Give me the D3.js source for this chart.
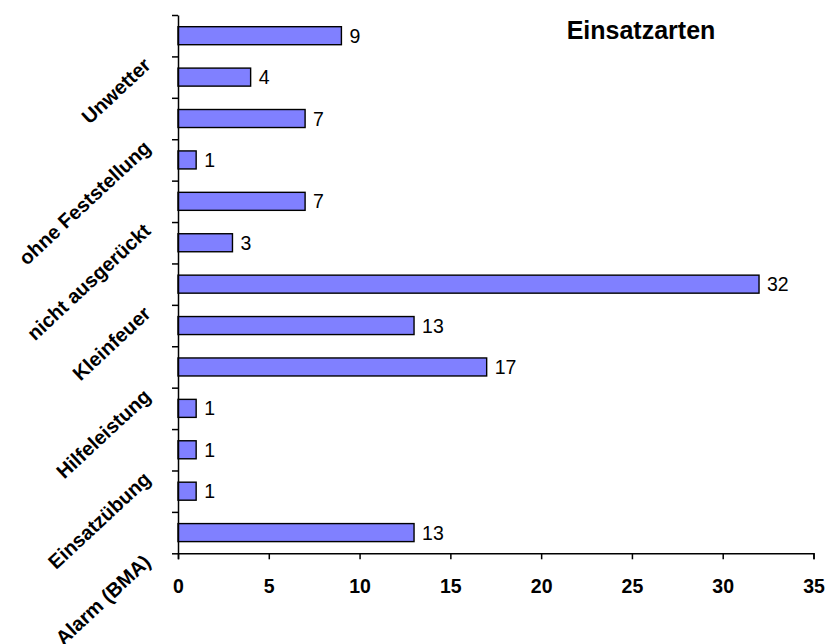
<!DOCTYPE html>
<html>
<head>
<meta charset="utf-8">
<script src="https://cdn.jsdelivr.net/npm/d3@7"></script>
<style>
  body { margin: 0; background: #fff; }
  text { font-family: Arial, "Liberation Sans", sans-serif; }
</style>
</head>
<body>
<div id="chart"></div>
<script>
// categories bottom to top, only every other one is labelled in the original
var categories = ["Alarm (BMA)", "", "Einsatzübung", "", "Hilfeleistung", "", "Kleinfeuer", "",
                  "nicht ausgerückt", "", "ohne Feststellung", "", "Unwetter"];
var values = [13, 1, 1, 1, 17, 13, 32, 3, 7, 1, 7, 4, 9];
var xTicks = [0, 5, 10, 15, 20, 25, 30, 35];
var title = "Einsatzarten";

var width = 825, height = 644;
var margin = {top: 15, right: 11.5, bottom: 90.7, left: 178};
var plotW = width - margin.left - margin.right,
    plotH = height - margin.top - margin.bottom;

var svg = d3.select('#chart').append('svg')
    .attr('width', width)
    .attr('height', height);

var g = svg.append('g')
    .attr('transform', 'translate(' + margin.left + ',' + margin.top + ')');

var x = d3.scaleLinear().domain([0, 35]).range([0, plotW]);
var idx = d3.range(categories.length);
var y = d3.scaleBand()
    .domain(idx.slice().reverse())
    .range([0, plotH])
    .paddingInner(0.565)
    .paddingOuter(0.2825);

// bars
g.selectAll('.bar')
    .data(values)
    .enter()
    .append('rect')
    .attr('class', 'bar')
    .attr('x', 0)
    .attr('y', function(d, i) { return y(i); })
    .attr('width', function(d) { return x(d); })
    .attr('height', y.bandwidth())
    .attr('fill', '#8080ff')
    .attr('stroke', '#000')
    .attr('stroke-width', 1.4);

// value labels
g.selectAll('.val')
    .data(values)
    .enter()
    .append('text')
    .attr('class', 'val')
    .attr('x', function(d) { return x(d) + 8; })
    .attr('y', function(d, i) { return y(i) + y.bandwidth() / 2; })
    .attr('dy', '0.36em')
    .attr('font-size', 19.5)
    .attr('fill', '#000')
    .text(function(d) { return d; });

// x axis
var xAxis = g.append('g')
    .attr('transform', 'translate(0,' + plotH + ')')
    .call(d3.axisBottom(x).tickValues(xTicks).tickSize(6).tickSizeOuter(6).tickPadding(20));
xAxis.select('.domain').attr('stroke', '#000').attr('stroke-width', 1.5);
xAxis.selectAll('.tick line').attr('stroke', '#000').attr('stroke-width', 1.5);
xAxis.selectAll('.tick text')
    .attr('font-size', 19.5)
    .attr('font-weight', 'bold')
    .attr('font-family', 'Arial, "Liberation Sans", sans-serif')
    .attr('fill', '#000');

// y axis: ticks between categories
var yLin = d3.scaleLinear().domain([0, categories.length]).range([plotH, 0]);
var yAxis = g.append('g')
    .call(d3.axisLeft(yLin).tickValues(d3.range(categories.length + 1)).tickSize(6).tickSizeOuter(0).tickFormat(''));
yAxis.select('.domain').attr('stroke', '#000').attr('stroke-width', 1.5);
yAxis.selectAll('.tick line').attr('stroke', '#000').attr('stroke-width', 1.5);

// rotated category labels
g.selectAll('.cat')
    .data(categories)
    .enter()
    .append('text')
    .attr('class', 'cat')
    .attr('text-anchor', 'end')
    .attr('font-size', 20)
    .attr('font-weight', 'bold')
    .attr('fill', '#000')
    .attr('transform', function(d, i) {
        var cy = y(i) + y.bandwidth() / 2 + 31;
        return 'translate(-26,' + cy + ') rotate(-43)';
    })
    .text(function(d) { return d; });

// title
svg.append('text')
    .attr('x', 641)
    .attr('y', 39)
    .attr('text-anchor', 'middle')
    .attr('font-size', 25)
    .attr('font-weight', 'bold')
    .attr('fill', '#000')
    .text(title);
</script>
</body>
</html>
